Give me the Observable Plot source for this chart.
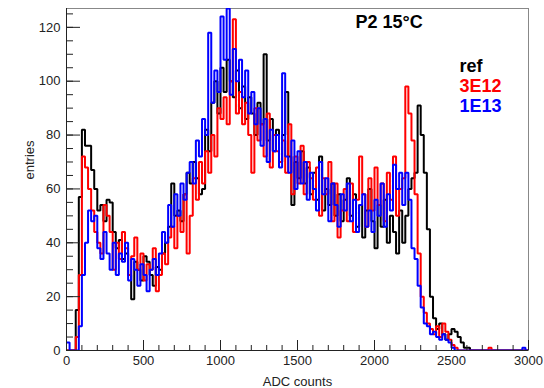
<!DOCTYPE html>
<html><head><meta charset="utf-8">
<script src="https://cdn.jsdelivr.net/npm/d3@7"></script>
<script src="https://cdn.jsdelivr.net/npm/@observablehq/plot@0.6"></script>
<style>body{margin:0;background:#fff}#chart{width:544px;height:388px}</style>
</head><body><div id="chart"></div>
<script>
// Histogram bins: 20 ADC counts wide, from 0 to 3000
const binWidth = 20;
const refCounts = [
  0,0,0,15,57,82,76,76,67,60,
  52,54,48,56,55,44,38,41,34,36,
  28,19,33,30,26,35,33,28,24,31,
  30,36,40,46,62,50,52,48,58,66,
  62,70,64,58,60,82,74,92,100,88,
  105,96,108,100,94,104,90,98,86,94,
  88,80,92,84,110,78,86,74,82,70,
  80,96,72,54,70,64,74,62,68,58,
  66,56,72,52,60,54,62,50,58,48,
  56,64,50,58,46,54,42,52,60,48,
  38,54,46,56,40,50,44,36,52,40,
  50,60,64,66,91,80,66,45,20,12,
  8,10,6,4,6,8,7,5,3,1,
  1,0,0,0,0,0,0,0,0,0,
  0,0,0,0,0,0,0,0,0,0
];
const counts3E12 = [
  0,0,0,5,28,72,68,60,52,44,
  40,36,54,50,44,30,40,34,44,38,
  28,35,42,30,36,26,32,30,38,22,
  28,36,32,42,46,38,50,44,58,36,
  50,64,56,70,62,74,66,80,72,90,
  86,94,84,100,123,88,96,84,92,80,
  66,90,78,84,72,88,68,80,74,70,
  78,66,84,58,72,62,76,58,70,64,
  56,68,50,64,58,70,48,62,42,52,
  60,48,62,44,56,72,58,46,64,52,
  68,54,62,48,66,56,72,50,60,64,
  98,88,78,58,36,20,14,10,8,6,
  9,5,10,7,4,2,1,0,0,0,
  0,0,0,0,0,0,0,1,0,0,
  0,0,0,0,0,0,0,0,0,0
];
const counts1E13 = [
  3,0,0,0,9,28,40,52,48,50,
  38,34,44,36,30,40,28,36,33,40,
  26,34,30,24,32,28,22,30,34,28,
  36,44,40,54,46,58,50,62,56,66,
  70,62,78,72,86,80,118,92,104,96,
  124,108,127,95,112,100,108,94,104,88,
  96,84,90,76,86,70,82,74,80,68,
  103,72,66,78,60,74,62,70,56,66,
  60,52,70,58,64,48,62,54,46,58,
  52,62,48,56,44,54,58,46,52,44,
  56,50,62,46,58,52,69,60,66,54,
  66,56,38,34,24,16,10,9,6,7,
  5,4,6,4,3,1,0,0,0,0,
  0,0,0,0,0,0,0,0,0,0,
  0,0,0,0,0,0,0,0,1,0
];
const seriesNames = ["ref", "3E12", "1E13"];
const seriesColors = ["#000000", "#ff0000", "#0000ff"];
const xMajorTicks = [0, 500, 1000, 1500, 2000, 2500, 3000];
const xMinorTicks = [0,100,200,300,400,500,600,700,800,900,1000,1100,1200,1300,1400,1500,1600,1700,1800,1900,2000,2100,2200,2300,2400,2500,2600,2700,2800,2900,3000];
const yMajorTicks = [0, 20, 40, 60, 80, 100, 120];
const yMinorTicks = [0,5,10,15,20,25,30,35,40,45,50,55,60,65,70,75,80,85,90,95,100,105,110,115,120,125];
const title = "P2 15°C";

const allCounts = [refCounts, counts3E12, counts1E13];
function stepData(counts, name) {
  const pts = counts.map((v, i) => ({series: name, x: i * binWidth, y: v}));
  pts.push({series: name, x: counts.length * binWidth, y: counts[counts.length - 1]});
  return pts;
}

const font = "'Liberation Sans', Arial, Helvetica, sans-serif";
const axisColor = "#222";
const plain = d => String(d);

const marks = [
  Plot.frame({stroke: "#888", strokeWidth: 1}),
  ...allCounts.map((c, k) => Plot.line(stepData(c, seriesNames[k]), {
    x: "x", y: "y", curve: "step-after", stroke: seriesColors[k],
    strokeWidth: 2, strokeLinejoin: "miter", strokeLinecap: "butt", clip: true
  })),
  Plot.ruleX([0], {stroke: axisColor, strokeWidth: 1}),
  Plot.ruleY([0], {stroke: axisColor, strokeWidth: 1}),
  // inward ROOT-style ticks
  Plot.axisX({ticks: xMajorTicks, tickSize: -10, tickFormat: () => "", stroke: axisColor, label: null}),
  Plot.axisX({ticks: xMinorTicks, tickSize: -5, tickFormat: () => "", stroke: axisColor, label: null}),
  Plot.axisY({ticks: yMajorTicks, tickSize: -14, tickFormat: () => "", stroke: axisColor, label: null}),
  Plot.axisY({ticks: yMinorTicks, tickSize: -7, tickFormat: () => "", stroke: axisColor, label: null}),
  Plot.axisX({ticks: xMajorTicks, tickSize: 0, tickPadding: 5, tickFormat: plain, fontSize: 13, fill: "#222", label: null}),
  Plot.axisY({ticks: yMajorTicks, tickSize: 0, tickPadding: 6, tickFormat: plain, fontSize: 13, fill: "#222", label: null}),
  Plot.text(["ADC counts"], {frameAnchor: "bottom", dy: 31, fontSize: 13, fill: "#222", lineAnchor: "middle"}),
  Plot.text(["entries"], {frameAnchor: "left", dx: -37, rotate: -90, fontSize: 13, fill: "#222", lineAnchor: "middle"}),
  Plot.text([title], {frameAnchor: "top-left", dx: 289, dy: 14, fontSize: 18, fontWeight: "bold", textAnchor: "start", lineAnchor: "middle", fill: "#000"}),
  ...seriesNames.map((n, k) => Plot.text([n], {
    frameAnchor: "top-left", dx: 393, dy: 58 + 20 * k, fontSize: 18, fontWeight: "bold",
    textAnchor: "start", lineAnchor: "middle", fill: seriesColors[k]
  }))
];

const chart = Plot.plot({
  width: 544, height: 388,
  marginLeft: 66, marginRight: 16, marginTop: 8, marginBottom: 38,
  style: {fontFamily: font, fontSize: "13px", background: "#fff"},
  x: {domain: [0, 3000], axis: null},
  y: {domain: [0, 127], axis: null},
  marks
});
document.getElementById("chart").appendChild(chart);
</script>
</body></html>
